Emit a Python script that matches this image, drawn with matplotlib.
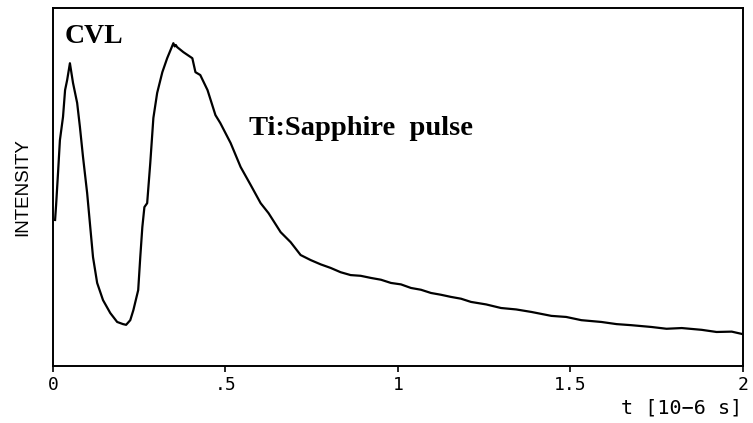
import matplotlib
matplotlib.use("Agg")
import matplotlib.pyplot as plt

# time in microseconds
t = [0.006, 0.009, 0.015, 0.020, 0.029, 0.035, 0.041, 0.049, 0.058, 0.070,
     0.078, 0.087, 0.099, 0.108, 0.116, 0.128, 0.145, 0.166, 0.186, 0.203,
     0.212, 0.224, 0.233, 0.247, 0.253, 0.259, 0.265, 0.273, 0.282, 0.291,
     0.302, 0.317, 0.331, 0.349, 0.353, 0.356, 0.360, 0.378, 0.404, 0.413,
     0.427, 0.448, 0.471, 0.485, 0.515, 0.544, 0.573, 0.602, 0.625, 0.660,
     0.689, 0.718, 0.747, 0.776, 0.805, 0.834, 0.863, 0.892, 0.922,
     0.951, 0.980, 1.009, 1.038, 1.067, 1.096, 1.125, 1.154, 1.183, 1.212,
     1.256, 1.299, 1.343, 1.387, 1.445, 1.488, 1.532, 1.590, 1.634, 1.677,
     1.735, 1.779, 1.823, 1.881, 1.924, 1.968, 2.000]
# intensity (arbitrary units, 0 = axis bottom, 1 = axis top)
intensity = [0.408, 0.450, 0.547, 0.631, 0.696, 0.771, 0.799, 0.846, 0.791, 0.735,
             0.668, 0.584, 0.483, 0.388, 0.304, 0.232, 0.184, 0.148, 0.123, 0.117,
             0.115, 0.128, 0.156, 0.212, 0.304, 0.388, 0.444, 0.455, 0.567, 0.693,
             0.763, 0.821, 0.860, 0.902, 0.893, 0.897, 0.891, 0.877, 0.860, 0.821,
             0.813, 0.771, 0.701, 0.679, 0.623, 0.556, 0.506, 0.455, 0.427, 0.374,
             0.346, 0.310, 0.296, 0.284, 0.274, 0.262, 0.254, 0.252, 0.246,
             0.241, 0.232, 0.228, 0.218, 0.213, 0.204, 0.199, 0.193, 0.188, 0.179,
             0.172, 0.162, 0.158, 0.151, 0.140, 0.137, 0.128, 0.123, 0.117, 0.114,
             0.109, 0.104, 0.106, 0.101, 0.095, 0.096, 0.089]

xticks = [0, 0.5, 1, 1.5, 2]
xticklabels = ["0", ".5", "1", "1.5", "2"]

fig = plt.figure(figsize=(7.53, 4.23), dpi=100)
ax = fig.add_axes([0.0704, 0.1348, 0.916, 0.846])
ax.plot(t, intensity, color="black", lw=1.6)
ax.set_xlim(0, 2)
ax.set_ylim(0, 1)
ax.set_yticks([])
ax.set_xticks(xticks)
ax.set_xticklabels(xticklabels, family="DejaVu Sans Mono", fontsize=13)
ax.tick_params(axis="x", direction="out", length=4, width=1.2, pad=3)
for s in ax.spines.values():
    s.set_linewidth(1.4)

ax.set_ylabel("INTENSITY", family="Liberation Sans", fontsize=13.5,
              labelpad=16, fontweight="medium")
ax.text(0.017, 0.955, "CVL", transform=ax.transAxes, family="Liberation Serif",
        fontweight="bold", fontsize=20, ha="left", va="top")
ax.text(0.447, 0.665, "Ti:Sapphire  pulse", transform=ax.transAxes,
        family="Liberation Serif", fontweight="bold", fontsize=20.5,
        ha="center", va="center")
fig.text(0.986, 0.012, "t [10\u22126 s]", family="DejaVu Sans Mono", fontsize=14.5,
         ha="right", va="bottom")

fig.savefig("out.png", dpi=100)
